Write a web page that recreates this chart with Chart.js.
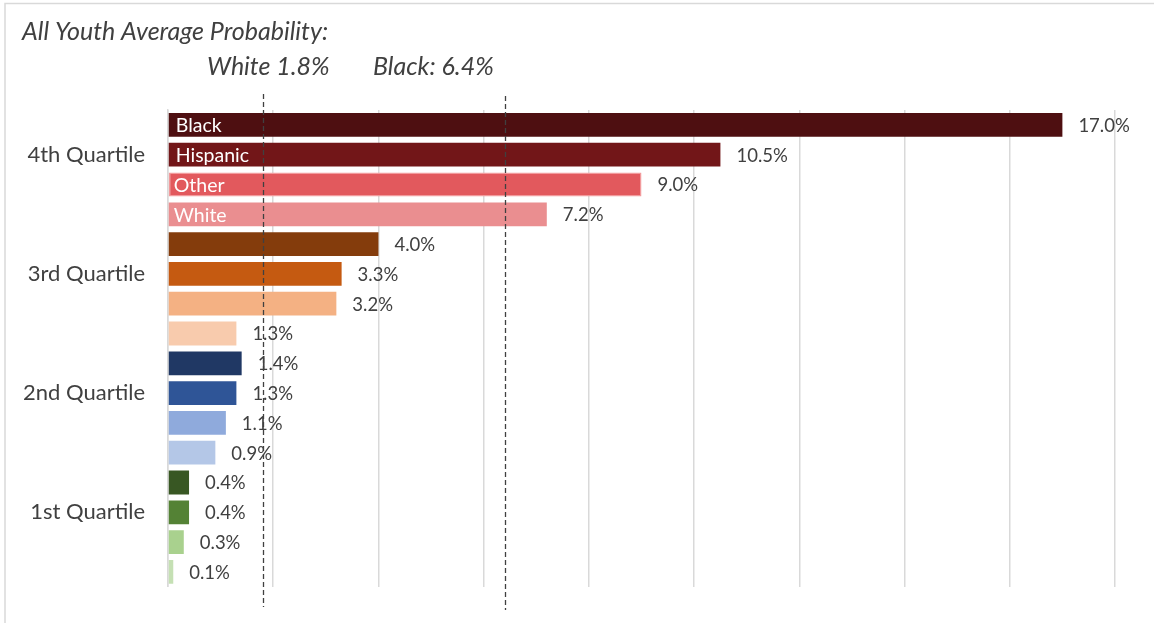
<!DOCTYPE html>
<html>
<head>
<meta charset="utf-8">
<title>Youth probability by income quartile</title>
<script src="https://cdn.jsdelivr.net/npm/chart.js@4.4.1/dist/chart.umd.min.js"></script>
<style>
  html, body { margin: 0; padding: 0; background: #ffffff; }
  #wrap { width: 1154px; height: 623px; }
</style>
</head>
<body>
<div id="wrap"><canvas id="chart" width="1154" height="623"></canvas></div>
<script>
// Income quartiles, top to bottom, and the race groups shown within each
const quartiles = ['4th Quartile', '3rd Quartile', '2nd Quartile', '1st Quartile'];
const groups = ['Black', 'Hispanic', 'Other', 'White'];

// Probability (%) for Black, Hispanic, Other, White in each quartile
const q4Values = [17.0, 10.5, 9.0, 7.2];
const q3Values = [4.0, 3.3, 3.2, 1.3];
const q2Values = [1.4, 1.3, 1.1, 0.9];
const q1Values = [0.4, 0.4, 0.3, 0.1];

// All-youth averages marked with dashed reference lines
const avgLabels = ['White 1.8%', 'Black: 6.4%'];
const avgValues = [1.8, 6.4];

// Value axis range (percent)
const axisMin = 0;
const axisMax = 18;
const axisStep = 2;

// Bar fills per quartile (Black, Hispanic, Other, White)
const palette = [
  ['#4E0F11', '#721618', '#E2595D', '#EA8E90'],
  ['#843C0C', '#C55A11', '#F4B183', '#F8CBAD'],
  ['#203864', '#2F5597', '#8FAADC', '#B4C7E7'],
  ['#385723', '#548235', '#A9D18E', '#C5E0B4']
];

const valueSets = [q4Values, q3Values, q2Values, q1Values];
const rows = [];
quartiles.forEach((q, qi) => {
  groups.forEach((g, gi) => {
    rows.push({ quartile: q, group: g, qi: qi, gi: gi, value: valueSets[qi][gi] });
  });
});

const TEXT = '#404040';
const FONT = 'Lato, "Open Sans", sans-serif';

const labelPlugin = {
  id: 'barLabels',
  afterDatasetsDraw(chart) {
    const ctx = chart.ctx;
    const meta = chart.getDatasetMeta(0);
    ctx.save();
    ctx.textBaseline = 'middle';
    meta.data.forEach((bar, i) => {
      const r = rows[i];
      // value to the right of each bar
      ctx.fillStyle = TEXT;
      ctx.font = '18.5px ' + FONT;
      ctx.textAlign = 'left';
      ctx.fillText(r.value.toFixed(1) + '%', bar.x + 16, bar.y + 1);
      // group names inside the top quartile's bars
      if (r.qi === 0) {
        ctx.fillStyle = '#ffffff';
        ctx.font = '19.5px ' + FONT;
        ctx.fillText(r.group, bar.base + (r.gi < 2 ? 7 : 5), bar.y + 1);
      }
    });
    ctx.restore();
  },
  afterDraw(chart) {
    const ctx = chart.ctx;
    const xs = chart.scales.x;
    ctx.save();
    // dashed average lines
    ctx.strokeStyle = '#404040';
    ctx.lineWidth = 1.3;
    ctx.setLineDash([5, 3]);
    avgValues.forEach((v, i) => {
      const x = Math.round(xs.getPixelForValue(v)) + 0.5;
      ctx.beginPath();
      ctx.moveTo(x, i === 0 ? 94 : 96);
      ctx.lineTo(x, i === 0 ? 607 : 610);
      ctx.stroke();
    });
    ctx.setLineDash([]);
    // heading and average labels
    ctx.fillStyle = TEXT;
    ctx.textBaseline = 'alphabetic';
    ctx.textAlign = 'left';
    ctx.font = 'italic 25px ' + FONT;
    ctx.fillText('All Youth Average Probability:', 22, 40);
    ctx.fillText(avgLabels[0], 207, 75);
    ctx.fillText(avgLabels[1], 373, 75);
    ctx.restore();
  },
  beforeDraw(chart) {
    const ctx = chart.ctx;
    ctx.save();
    ctx.strokeStyle = '#D9D9D9';
    ctx.lineWidth = 1.5;
    ctx.beginPath();
    ctx.moveTo(5, 623);
    ctx.lineTo(5, 3.5);
    ctx.lineTo(1154, 3.5);
    ctx.stroke();
    ctx.restore();
  }
};

new Chart(document.getElementById('chart'), {
  type: 'bar',
  data: {
    labels: rows.map(r => r.quartile + ' ' + r.group),
    datasets: [{
      data: rows.map(r => r.value),
      backgroundColor: rows.map(r => palette[r.qi][r.gi]),
      borderColor: rows.map(r => (r.qi === 0 && r.gi === 2) ? '#F29A9C' : 'rgba(0,0,0,0)'),
      borderWidth: rows.map(r => (r.qi === 0 && r.gi === 2) ? 1.5 : 0),
      borderSkipped: false,
      categoryPercentage: 1.0,
      barPercentage: 0.8
    }]
  },
  options: {
    indexAxis: 'y',
    responsive: false,
    animation: false,
    events: [],
    layout: { padding: { top: 110, bottom: 34, left: 0, right: 39 } },
    plugins: {
      legend: { display: false },
      tooltip: { enabled: false },
      title: { display: false }
    },
    scales: {
      x: {
        type: 'linear',
        min: axisMin,
        max: axisMax,
        ticks: { display: false, stepSize: axisStep },
        grid: { color: '#D9D9D9', lineWidth: 1.5, drawTicks: false },
        border: { display: false },
        afterFit(scale) { scale.height = 0; }
      },
      y: {
        type: 'category',
        ticks: {
          autoSkip: false,
          padding: 23,
          color: TEXT,
          font: { family: FONT, size: 22 },
          callback(value, index) {
            const r = rows[index];
            return r.gi === 1 ? r.quartile : '';
          }
        },
        grid: { display: false, drawTicks: false },
        border: { display: true, color: '#D9D9D9', width: 1.5 },
        afterFit(scale) { scale.width = 168; }
      }
    }
  },
  plugins: [labelPlugin]
});
</script>
</body>
</html>
